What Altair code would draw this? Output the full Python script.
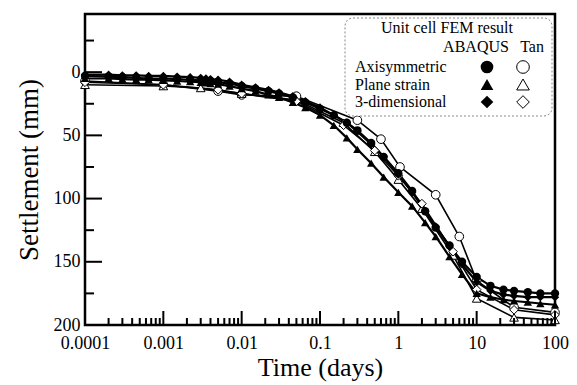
import altair as alt
import pandas as pd

# ---------------- data ----------------
T_AB = [0.0001, 0.0002, 0.0003, 0.00045, 0.00065, 0.001, 0.0015, 0.0022, 0.003, 0.0035,
        0.004, 0.005, 0.007, 0.01, 0.015, 0.022, 0.03, 0.045, 0.065, 0.1,
        0.15, 0.22, 0.3, 0.45, 0.65, 1.0, 1.5, 2.2, 3.0, 4.5,
        6.5, 10, 15, 22, 30, 45, 65, 100]
AXI_AB = [3, 3.5, 4, 4.5, 5, 5, 5.5, 6, 6.5, 7,
          7, 8, 9, 11, 13, 15, 17, 20, 24, 29,
          34, 40, 46, 56, 67, 80, 94, 110, 123, 137,
          150, 162, 169, 172, 173, 174, 175, 175]
PS_AB = [5, 5, 5.5, 6, 6, 6.5, 7, 7.5, 8, 8.5,
         9, 9.5, 11, 13, 15, 18, 20, 24, 28, 34,
         42, 52, 61, 72, 83, 95, 106, 119, 130, 146,
         160, 175, 178, 180, 181, 182, 183, 184]
TD_AB = [2, 2, 2.5, 2.5, 3, 3, 3.5, 4, 4.5, 5,
         5.5, 6, 7.5, 10, 12, 14, 16, 19, 23, 28,
         34, 40, 47, 57, 67, 81, 95, 110, 122, 138,
         152, 166, 173, 176, 177, 178, 178, 178]

T_TAN_AXI = [0.0001, 0.001, 0.005, 0.01, 0.05, 0.3, 0.6, 1.05, 3.0, 6.0, 10, 30, 100]
AXI_TAN = [7, 10, 15, 18, 19, 38, 53, 75, 97, 130, 165, 186, 190]

T_TAN_PS = [0.0001, 0.001, 0.003, 0.01, 0.05, 0.2, 0.5, 1.0, 2.0, 5.0, 10, 30, 100]
PS_TAN = [10, 11, 12.5, 17, 22, 40, 63, 85, 108, 145, 179, 194, 196]

T_TAN_3D = [0.0001, 0.001, 0.005, 0.01, 0.05, 0.2, 0.5, 1.0, 2.0, 5.0, 10, 30, 100]
TD_TAN = [8, 10, 14, 17, 23, 42, 62, 82, 104, 142, 172, 188, 192]

X_LABEL_VALUES = [0.0001, 0.001, 0.01, 0.1, 1, 10, 100]
Y_LABEL_VALUES = [0, 50, 100, 150, 200]
Y_MAJOR_TICKS = [0, 50, 100, 150]
Y_MINOR_TICKS = [-25, 25, 75, 125, 175]
X_MINOR_TICKS = [m * d for d in [0.0001, 0.001, 0.01, 0.1, 1, 10] for m in range(2, 10)]

LEGEND_ROWS = ["Axisymmetric", "Plane strain", "3-dimensional"]
LEGEND_SHAPES = ["circle", "triangle-up", "diamond"]

# ---------------- layout ----------------
W, H = 470, 311
FONT = "Liberation Serif"

rows = []
for name, shape, method, ts, ss in [
    ("Axi ABAQUS", "circle", "ABAQUS", T_AB, AXI_AB),
    ("PS ABAQUS", "triangle-up", "ABAQUS", T_AB, PS_AB),
    ("3D ABAQUS", "diamond", "ABAQUS", T_AB, TD_AB),
    ("Axi Tan", "circle", "Tan", T_TAN_AXI, AXI_TAN),
    ("PS Tan", "triangle-up", "Tan", T_TAN_PS, PS_TAN),
    ("3D Tan", "diamond", "Tan", T_TAN_3D, TD_TAN),
]:
    for t, s in zip(ts, ss):
        rows.append({"t": t, "s": s, "series": name, "shape": shape, "method": method})
df = pd.DataFrame(rows)

xscale = alt.Scale(type="log", domain=[0.0001, 100], nice=False)
yscale = alt.Scale(domain=[-46, 200], reverse=True, nice=False, zero=False)

XAXIS = alt.Axis(values=X_LABEL_VALUES, format="~g", ticks=False, grid=False,
                 domain=False, labelFontSize=18, labelPadding=9,
                 labelFont=FONT, labelColor="black", title="Time (days)",
                 titleFont=FONT, titleFontSize=26, titleFontWeight="normal",
                 titleColor="black", titlePadding=2, labelFlush=False)
YAXIS = alt.Axis(values=Y_LABEL_VALUES, ticks=False, grid=False, domain=False,
                 labelFontSize=18, labelPadding=5, labelFont=FONT,
                 labelColor="black", title="Settlement (mm)", titleFont=FONT,
                 titleFontSize=27, titleFontWeight="normal", titleColor="black",
                 titlePadding=10)


def X(field):
    return alt.X(field, scale=xscale, axis=XAXIS)


def Y(field):
    return alt.Y(field, scale=yscale, axis=YAXIS)


shape_scale = alt.Scale(domain=["circle", "triangle-up", "diamond"],
                        range=["circle", "triangle-up", "diamond"])

base = alt.Chart(df)

lines_ab = base.transform_filter(alt.datum.method == "ABAQUS").mark_line(
    color="black", strokeWidth=2.2
).encode(x=X("t:Q"), y=Y("s:Q"), detail="series:N", order="t:Q")

lines_tan = base.transform_filter(alt.datum.method == "Tan").mark_line(
    color="black", strokeWidth=1.6
).encode(x=X("t:Q"), y=Y("s:Q"), detail="series:N", order="t:Q")

pts_tan = base.transform_filter(alt.datum.method == "Tan").mark_point(
    filled=True, fill="white", stroke="black", strokeWidth=1, size=75, opacity=1
).encode(x=X("t:Q"), y=Y("s:Q"),
         shape=alt.Shape("shape:N", scale=shape_scale, legend=None))

pts_ab = base.transform_filter(alt.datum.method == "ABAQUS").mark_point(
    filled=True, color="black", size=70, opacity=1
).encode(x=X("t:Q"), y=Y("s:Q"),
         shape=alt.Shape("shape:N", scale=shape_scale, legend=None))

# inward ticks
xmaj = alt.Chart(pd.DataFrame({"t": X_LABEL_VALUES})).mark_rule(color="black", strokeWidth=2).encode(
    x=X("t:Q"), y=alt.value(H), y2=alt.value(H - 14))
xmin = alt.Chart(pd.DataFrame({"t": X_MINOR_TICKS})).mark_rule(color="black", strokeWidth=2).encode(
    x=X("t:Q"), y=alt.value(H), y2=alt.value(H - 7))
ymaj = alt.Chart(pd.DataFrame({"s": Y_MAJOR_TICKS})).mark_rule(color="black", strokeWidth=2).encode(
    y=Y("s:Q"), x=alt.value(0), x2=alt.value(17))
ymin = alt.Chart(pd.DataFrame({"s": Y_MINOR_TICKS})).mark_rule(color="black", strokeWidth=2).encode(
    y=Y("s:Q"), x=alt.value(0), x2=alt.value(9))

# legend box (annotation)
LX0, LX1, LY0, LY1 = 260, 467, 4, 102
leg_box = alt.Chart(pd.DataFrame({"a": [0]})).mark_rect(
    fill="white", stroke="#888888", strokeWidth=1, strokeDash=[2, 2], cornerRadius=8
).encode(x=alt.value(LX0), x2=alt.value(LX1), y=alt.value(LY0), y2=alt.value(LY1))

leg_layers = [leg_box]


def txt(s, x, y, align="left"):
    return alt.Chart(pd.DataFrame({"label": [s]})).mark_text(
        font=FONT, fontSize=16, color="black", align=align, baseline="middle"
    ).encode(text="label:N", x=alt.value(x), y=alt.value(y))


leg_layers.append(txt("Unit cell FEM result", 362, 14, "center"))
leg_layers.append(txt("ABAQUS", 391, 33, "center"))
leg_layers.append(txt("Tan", 447, 33, "center"))
for i, (lab, shp) in enumerate(zip(LEGEND_ROWS, LEGEND_SHAPES)):
    yy = 53 + i * 17.5
    leg_layers.append(txt(lab, 270, yy))
    leg_layers.append(alt.Chart(pd.DataFrame({"shape": [shp]})).mark_point(
        filled=True, color="black", size=160, opacity=1
    ).encode(shape=alt.Shape("shape:N", scale=shape_scale, legend=None),
             x=alt.value(402), y=alt.value(yy)))
    leg_layers.append(alt.Chart(pd.DataFrame({"shape": [shp]})).mark_point(
        filled=True, fill="white", stroke="black", strokeWidth=1, size=160, opacity=1
    ).encode(shape=alt.Shape("shape:N", scale=shape_scale, legend=None),
             x=alt.value(438), y=alt.value(yy)))

chart = alt.layer(
    lines_ab, lines_tan, pts_tan, pts_ab, xmaj, xmin, ymaj, ymin, *leg_layers
).properties(
    width=W, height=H,
    autosize=alt.AutoSizeParams(type="none"),
    padding={"left": 85, "top": 14, "right": 22, "bottom": 60},
    background="white",
).configure_view(stroke="black", strokeWidth=2.5)

chart.save("out.html", embed_options={"renderer": "svg", "actions": False})
